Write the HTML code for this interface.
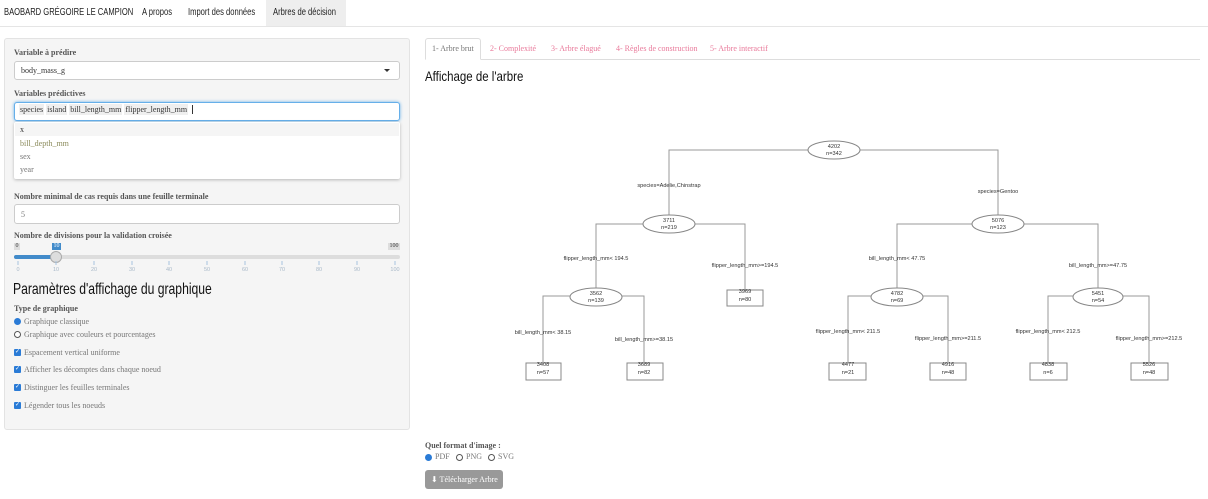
<!DOCTYPE html>
<html><head><meta charset="utf-8">
<style>
*{box-sizing:border-box;margin:0;padding:0}
body{width:1208px;height:499px;background:#fff;font-family:"Liberation Serif",serif;color:#333;position:relative;overflow:hidden}
.abs{position:absolute}
.nav{position:absolute;left:0;top:0;width:1208px;height:27px;border-bottom:1px solid #e5e5e5;font-family:"Liberation Sans",sans-serif;font-size:10px;color:#222}
.nav span{position:absolute;top:7px;transform:scaleX(.76);transform-origin:left;white-space:nowrap}
.panel{position:absolute;left:4px;top:38px;width:406px;height:392px;background:#f5f5f5;border:1px solid #e3e3e3;border-radius:3px}
.lbl{position:absolute;font-size:8px;font-weight:bold;color:#555}
.box{position:absolute;background:#fff;border:1px solid #ccc;border-radius:3px;font-size:8px;color:#333}
.opt{position:absolute;font-size:8px;color:#777}
.chk{position:absolute;width:7px;height:7px;background:#2a7bd6;border-radius:1px;color:#fff;font-size:6px;line-height:7px;text-align:center}
.rad{position:absolute;width:7px;height:7px;border:1px solid #555;border-radius:50%;background:#fff}
.rad.on{background:#2a7bd6;border-color:#2a7bd6}
.tab{position:absolute;top:44px;font-size:8px;color:#e9799a}
.hd{position:absolute;font-family:"Liberation Sans",sans-serif;color:#111;transform-origin:left;white-space:nowrap}
</style></head><body>
<div class="nav">
<div class="abs" style="left:266px;top:0;width:80px;height:26px;background:#eee"></div>
<span style="left:4px">BAOBARD GRÉGOIRE LE CAMPION</span>
<span style="left:142px">A propos</span>
<span style="left:188px">Import des données</span>
<span style="left:273px">Arbres de décision</span>
</div>

<div class="panel"></div>
<div class="lbl" style="left:14px;top:48px">Variable à prédire</div>
<div class="box" style="left:14px;top:61px;width:386px;height:19px;padding:4px 6px">body_mass_g</div>
<div class="abs" style="left:384px;top:69px;width:0;height:0;border-left:3px solid transparent;border-right:3px solid transparent;border-top:3px solid #333"></div>
<div class="lbl" style="left:14px;top:89px">Variables prédictives</div>
<div class="box" style="left:14px;top:102px;width:386px;height:19px;border-color:#66afe9;box-shadow:0 0 3px #66afe9"></div>
<div class="abs" style="left:19px;top:105px;font-size:8px;color:#333">
<span style="background:#efefef;padding:1px 1px">species</span> <span style="background:#efefef;padding:1px 1px">island</span> <span style="background:#efefef;padding:1px 1px">bill_length_mm</span> <span style="background:#efefef;padding:1px 1px">flipper_length_mm</span> <span style="border-left:1px solid #333;margin-left:2px">&nbsp;</span></div>
<div class="abs" style="left:14px;top:122px;width:386px;height:57px;background:#fff;box-shadow:0 1px 3px rgba(0,0,0,.25);border-radius:2px"></div>
<div class="abs" style="left:15px;top:123px;width:384px;height:13px;background:#f5f5f5"></div>
<div class="opt" style="left:20px;top:125px;color:#333">x</div>
<div class="opt" style="left:20px;top:139px;color:#8a8a5a">bill_depth_mm</div>
<div class="opt" style="left:20px;top:152px">sex</div>
<div class="opt" style="left:20px;top:165px">year</div>

<div class="lbl" style="left:14px;top:192px">Nombre minimal de cas requis dans une feuille terminale</div>
<div class="box" style="left:14px;top:204px;width:386px;height:20px;padding:5px 6px;color:#777">5</div>
<div class="lbl" style="left:14px;top:231px">Nombre de divisions pour la validation croisée</div>
<div class="abs" style="left:14px;top:243px;width:6px;height:7px;background:#ddd;font-size:6px;text-align:center;line-height:7px">0</div>
<div class="abs" style="left:52px;top:243px;width:9px;height:7px;background:#428bca;color:#fff;font-size:6px;text-align:center;line-height:7px">10</div>
<div class="abs" style="left:388px;top:243px;width:12px;height:7px;background:#ddd;font-size:6px;text-align:center;line-height:7px">100</div>
<div class="abs" style="left:14px;top:255px;width:386px;height:4px;background:#ddd;border-radius:2px"></div>
<div class="abs" style="left:14px;top:255px;width:42px;height:4px;background:#428bca;border-radius:2px"></div>
<div class="abs" style="left:50px;top:251px;width:12px;height:12px;background:#ddd;border:1px solid #aaa;border-radius:50%"></div>
<svg class="abs" style="left:0;top:260px" width="410" height="14">
<g stroke="#a8c4e0" stroke-width="1">
<line x1="18" y1="1" x2="18" y2="5"/><line x1="56" y1="1" x2="56" y2="5"/><line x1="94" y1="1" x2="94" y2="5"/><line x1="132" y1="1" x2="132" y2="5"/><line x1="169" y1="1" x2="169" y2="5"/><line x1="207" y1="1" x2="207" y2="5"/><line x1="245" y1="1" x2="245" y2="5"/><line x1="282" y1="1" x2="282" y2="5"/><line x1="319" y1="1" x2="319" y2="5"/><line x1="357" y1="1" x2="357" y2="5"/><line x1="395" y1="1" x2="395" y2="5"/>
</g>
<g font-size="5.5" fill="#a8b8c8" text-anchor="middle" font-family="Liberation Sans">
<text x="18" y="11">0</text><text x="56" y="11">10</text><text x="94" y="11">20</text><text x="132" y="11">30</text><text x="169" y="11">40</text><text x="207" y="11">50</text><text x="245" y="11">60</text><text x="282" y="11">70</text><text x="319" y="11">80</text><text x="357" y="11">90</text><text x="395" y="11">100</text></g>
</svg>
<div class="hd" style="left:13px;top:281px;font-size:16px;transform:scaleX(.76)">Paramètres d'affichage du graphique</div>
<div class="lbl" style="left:14px;top:304px">Type de graphique</div>
<div class="rad on" style="left:14px;top:318px"></div><div class="opt" style="left:24px;top:317px">Graphique classique</div>
<div class="rad" style="left:14px;top:331px"></div><div class="opt" style="left:24px;top:330px">Graphique avec couleurs et pourcentages</div>
<div class="chk" style="left:14px;top:349px">✓</div><div class="opt" style="left:24px;top:348px">Espacement vertical uniforme</div>
<div class="chk" style="left:14px;top:366px">✓</div><div class="opt" style="left:24px;top:365px">Afficher les décomptes dans chaque noeud</div>
<div class="chk" style="left:14px;top:384px">✓</div><div class="opt" style="left:24px;top:383px">Distinguer les feuilles terminales</div>
<div class="chk" style="left:14px;top:402px">✓</div><div class="opt" style="left:24px;top:401px">Légender tous les noeuds</div>

<div class="abs" style="left:425px;top:59px;width:775px;height:1px;background:#ddd"></div>
<div class="abs" style="left:425px;top:38px;width:56px;height:22px;background:#fff;border:1px solid #ddd;border-bottom-color:#fff;border-radius:3px 3px 0 0"></div>
<div class="tab" style="left:432px;color:#777">1- Arbre brut</div>
<div class="tab" style="left:490px">2- Complexité</div>
<div class="tab" style="left:551px">3- Arbre élagué</div>
<div class="tab" style="left:616px">4- Règles de construction</div>
<div class="tab" style="left:710px">5- Arbre interactif</div>
<div class="hd" style="left:425px;top:68px;font-size:14px;transform:scaleX(.82)">Affichage de l'arbre</div>

<svg class="abs" style="left:0;top:0" width="1208" height="499" font-family="Liberation Sans,sans-serif" font-size="5.6" fill="#333">
<g stroke="#999" stroke-width="1" fill="none">
<polyline points="669,224 669,150 808,150"/><polyline points="860,150 998,150 998,224"/>
<polyline points="596,296 596,224 643,224"/><polyline points="695,224 745,224 745,290"/>
<polyline points="543,362 543,296 570,296"/><polyline points="622,296 644,296 644,362"/>
<polyline points="897,296 897,224 972,224"/><polyline points="1024,224 1098,224 1098,296"/>
<polyline points="848,362 848,296 871,296"/><polyline points="923,296 948,296 948,362"/>
<polyline points="1048,362 1048,296 1073,296"/><polyline points="1123,296 1149,296 1149,362"/>
<g stroke="#888" fill="#fff">
<ellipse cx="834" cy="150" rx="26" ry="9"/>
<ellipse cx="669" cy="224" rx="26" ry="9"/>
<ellipse cx="998" cy="224" rx="26" ry="9"/>
<ellipse cx="596" cy="297" rx="26" ry="9"/>
<ellipse cx="897" cy="297" rx="26" ry="9"/>
<ellipse cx="1098" cy="297" rx="25" ry="9"/>
<rect x="727" y="290" width="36" height="16"/>
<rect x="526" y="363" width="35" height="17"/>
<rect x="627" y="363" width="36" height="17"/>
<rect x="829" y="363" width="37" height="17"/>
<rect x="930" y="363" width="36" height="17"/>
<rect x="1030" y="363" width="37" height="17"/>
<rect x="1131" y="363" width="37" height="17"/>
</g></g>
<g text-anchor="middle">
<text x="834" y="148">4202</text><text x="834" y="155">n=342</text>
<text x="669" y="222">3711</text><text x="669" y="229">n=219</text>
<text x="998" y="222">5076</text><text x="998" y="229">n=123</text>
<text x="596" y="295">3562</text><text x="596" y="302">n=139</text>
<text x="897" y="295">4782</text><text x="897" y="302">n=69</text>
<text x="1098" y="295">5451</text><text x="1098" y="302">n=54</text>
<text x="745" y="293">3969</text><text x="745" y="301">n=80</text>
<text x="543" y="366">3408</text><text x="543" y="374">n=57</text>
<text x="644" y="366">3689</text><text x="644" y="374">n=82</text>
<text x="848" y="366">4477</text><text x="848" y="374">n=21</text>
<text x="948" y="366">4916</text><text x="948" y="374">n=48</text>
<text x="1048" y="366">4838</text><text x="1048" y="374">n=6</text>
<text x="1149" y="366">5526</text><text x="1149" y="374">n=48</text>
<text x="669" y="187">species=Adelie,Chinstrap</text>
<text x="998" y="193">species=Gentoo</text>
<text x="596" y="260">flipper_length_mm&lt; 194.5</text>
<text x="745" y="267">flipper_length_mm&gt;=194.5</text>
<text x="543" y="334">bill_length_mm&lt; 38.15</text>
<text x="644" y="341">bill_length_mm&gt;=38.15</text>
<text x="897" y="260">bill_length_mm&lt; 47.75</text>
<text x="1098" y="267">bill_length_mm&gt;=47.75</text>
<text x="848" y="333">flipper_length_mm&lt; 211.5</text>
<text x="948" y="340">flipper_length_mm&gt;=211.5</text>
<text x="1048" y="333">flipper_length_mm&lt; 212.5</text>
<text x="1149" y="340">flipper_length_mm&gt;=212.5</text>
</g>
</svg>

<div class="lbl" style="left:425px;top:441px">Quel format d'image :</div>
<div class="rad on" style="left:425px;top:454px"></div><div class="opt" style="left:435px;top:452px">PDF</div>
<div class="rad" style="left:456px;top:454px"></div><div class="opt" style="left:466px;top:452px">PNG</div>
<div class="rad" style="left:488px;top:454px"></div><div class="opt" style="left:498px;top:452px">SVG</div>
<div class="abs" style="left:425px;top:470px;width:78px;height:19px;background:#999;border-radius:3px;color:#fff;font-size:8px;padding:5px 0 0 6px">⬇ Télécharger Arbre</div>
</body></html>
